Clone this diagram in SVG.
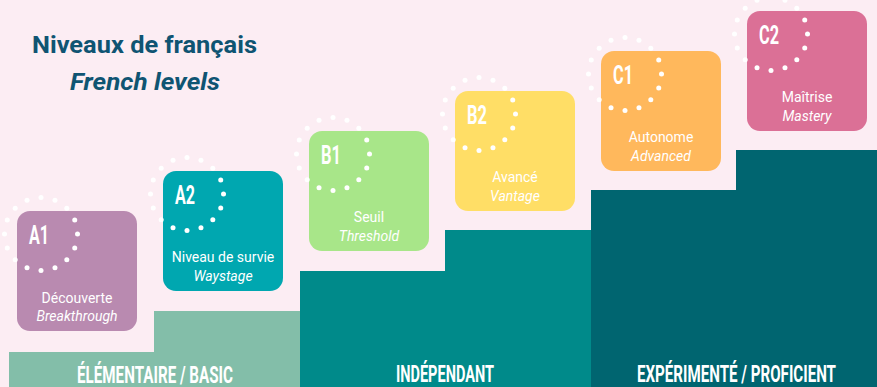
<svg xmlns="http://www.w3.org/2000/svg" xmlns:xlink="http://www.w3.org/1999/xlink" width="877" height="387" viewBox="0 0 877 387">
<defs>
<style>
.bg{fill:#FCEDF3}
.title{font-family:Roboto,"Liberation Sans",sans-serif;font-weight:700;fill:#0F5472;font-size:24px}
.step{font-family:Roboto,"Liberation Sans",sans-serif;font-weight:700;fill:#FFFFFF;font-size:23px}
.code{font-family:Roboto,"Liberation Sans",sans-serif;font-weight:700;fill:#FFFFFF;font-size:25px}
.fr{font-family:Roboto,"Liberation Sans",sans-serif;fill:#FFFFFF;font-size:14px;text-anchor:middle}
.en{font-family:Roboto,"Liberation Sans",sans-serif;fill:#FFFFFF;font-size:14px;font-style:italic;text-anchor:middle}
.dot{fill:#FFFFFF}
</style>
<g id="ring">
<circle class="dot" cx="0" cy="-36.5" r="2.5"/>
<circle class="dot" cx="13.97" cy="-33.72" r="2.5"/>
<circle class="dot" cx="25.81" cy="-25.81" r="2.5"/>
<circle class="dot" cx="33.72" cy="-13.97" r="2.5"/>
<circle class="dot" cx="36.5" cy="0" r="2.5"/>
<circle class="dot" cx="33.72" cy="13.97" r="2.5"/>
<circle class="dot" cx="25.81" cy="25.81" r="2.5"/>
<circle class="dot" cx="13.97" cy="33.72" r="2.5"/>
<circle class="dot" cx="0" cy="36.5" r="2.5"/>
<circle class="dot" cx="-13.97" cy="33.72" r="2.5"/>
<circle class="dot" cx="-25.81" cy="25.81" r="2.5"/>
<circle class="dot" cx="-33.72" cy="13.97" r="2.5"/>
<circle class="dot" cx="-36.5" cy="0" r="2.5"/>
<circle class="dot" cx="-33.72" cy="-13.97" r="2.5"/>
<circle class="dot" cx="-25.81" cy="-25.81" r="2.5"/>
<circle class="dot" cx="-13.97" cy="-33.72" r="2.5"/>
</g>
</defs>
<rect class="bg" x="0" y="0" width="877" height="387"/>

<g id="title">
<text class="title" x="32" y="53" textLength="225" lengthAdjust="spacingAndGlyphs">Niveaux de français</text>
<text class="title" x="70" y="90" font-style="italic" textLength="150" lengthAdjust="spacingAndGlyphs">French levels</text>
</g>

<g id="step-basic">
<path d="M9 352 H154 V311 H300 V387 H9 Z" fill="#83BEA9"/>
<text class="step" x="77" y="382.5" textLength="156" lengthAdjust="spacingAndGlyphs">ÉLÉMENTAIRE / BASIC</text>
</g>
<g id="step-independant">
<path d="M300 271 H445 V230 H591 V387 H300 Z" fill="#008A8A"/>
<text class="step" x="396" y="382" textLength="98" lengthAdjust="spacingAndGlyphs">INDÉPENDANT</text>
</g>
<g id="step-proficient">
<path d="M591 190 H736 V150 H877 V387 H591 Z" fill="#006570"/>
<text class="step" x="637" y="382" textLength="199" lengthAdjust="spacingAndGlyphs">EXPÉRIMENTÉ / PROFICIENT</text>
</g>

<g id="A1">
<rect x="17" y="211" width="120" height="120" rx="13" fill="#B98AB0"/>
<use xlink:href="#ring" x="41" y="234"/>
<text class="code" x="29" y="244" textLength="20" lengthAdjust="spacingAndGlyphs">A1</text>
<text class="fr" x="77" y="303">Découverte</text>
<text class="en" x="77" y="321">Breakthrough</text>
</g>
<g id="A2">
<rect x="163" y="171" width="120" height="120" rx="13" fill="#00A7B0"/>
<use xlink:href="#ring" x="187" y="194"/>
<text class="code" x="175" y="204" textLength="20" lengthAdjust="spacingAndGlyphs">A2</text>
<text class="fr" x="223" y="262">Niveau de survie</text>
<text class="en" x="223" y="281">Waystage</text>
</g>
<g id="B1">
<rect x="309" y="131" width="120" height="120" rx="13" fill="#A8E689"/>
<use xlink:href="#ring" x="333" y="154"/>
<text class="code" x="321" y="164" textLength="20" lengthAdjust="spacingAndGlyphs">B1</text>
<text class="fr" x="369" y="222">Seuil</text>
<text class="en" x="369" y="241">Threshold</text>
</g>
<g id="B2">
<rect x="455" y="91" width="120" height="120" rx="13" fill="#FFDE66"/>
<use xlink:href="#ring" x="479" y="114"/>
<text class="code" x="467" y="124" textLength="20" lengthAdjust="spacingAndGlyphs">B2</text>
<text class="fr" x="515" y="182">Avancé</text>
<text class="en" x="515" y="201">Vantage</text>
</g>
<g id="C1">
<rect x="601" y="51" width="120" height="120" rx="13" fill="#FFB85C"/>
<use xlink:href="#ring" x="625" y="74"/>
<text class="code" x="613" y="84" textLength="20" lengthAdjust="spacingAndGlyphs">C1</text>
<text class="fr" x="661" y="142">Autonome</text>
<text class="en" x="661" y="161">Advanced</text>
</g>
<g id="C2">
<rect x="747" y="11" width="120" height="120" rx="13" fill="#DB7096"/>
<use xlink:href="#ring" x="771" y="34"/>
<text class="code" x="759" y="44" textLength="20" lengthAdjust="spacingAndGlyphs">C2</text>
<text class="fr" x="807" y="102">Maîtrise</text>
<text class="en" x="807" y="121">Mastery</text>
</g>
</svg>
